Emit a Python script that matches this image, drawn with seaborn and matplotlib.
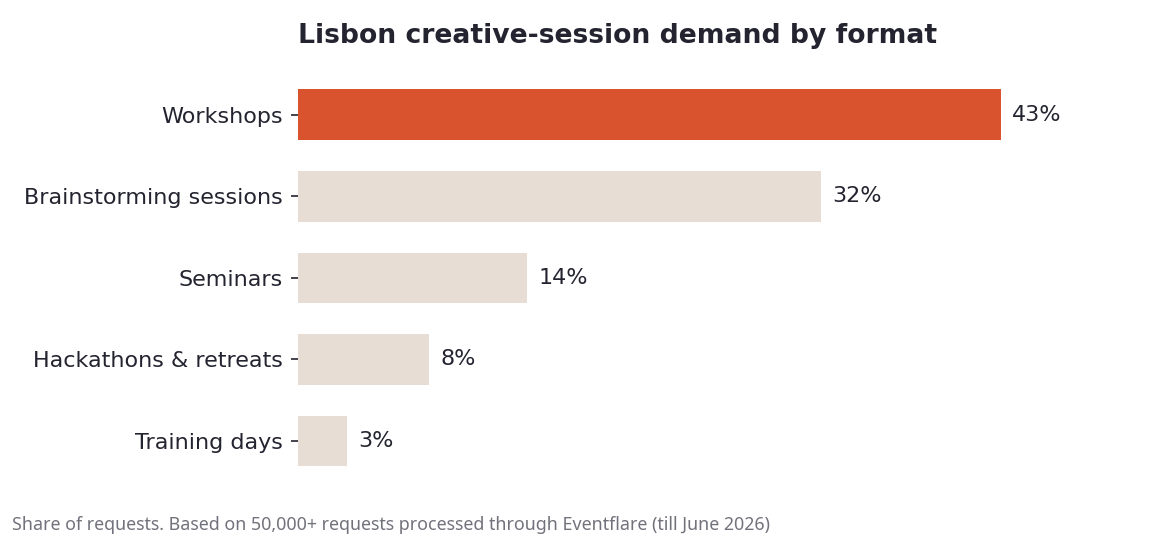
import matplotlib
matplotlib.use("Agg")
import matplotlib.pyplot as plt
import seaborn as sns
import pandas as pd

# data
formats = ["Workshops", "Brainstorming sessions", "Seminars", "Hackathons & retreats", "Training days"]
shares = [43, 32, 14, 8, 3]
highlight = "Workshops"

title = "Lisbon creative-session demand by format"
note = "Share of requests. Based on 50,000+ requests processed through Eventflare (till June 2026)"

text_color = "#23242f"
accent = "#d9532e"
muted = "#e7ddd4"

sns.set_theme(style="white")
plt.rcParams["font.family"] = ["DejaVu Sans"]

df = pd.DataFrame({"format": formats, "share": shares})
palette = {f: (accent if f == highlight else muted) for f in formats}

fig = plt.figure(figsize=(11.52, 5.36), dpi=100)
ax = fig.add_axes([0.2587, 0.1015, 0.7093, 0.7605])

sns.barplot(data=df, y="format", x="share", hue="format", palette=palette,
            order=formats, width=0.62, legend=False, saturation=1,
            linewidth=0, edgecolor="none", ax=ax)

ax.set_xlim(0, 50)
ax.set_xlabel("")
ax.set_ylabel("")
ax.set_xticks([])
sns.despine(ax=ax, left=True, bottom=True)
ax.tick_params(axis="y", length=5, width=1.2, color=text_color, labelsize=16,
               labelcolor=text_color, pad=6, left=True)

for i, v in enumerate(shares):
    ax.text(v + 0.7, i, f"{v}%", va="center", ha="left", fontsize=16, color=text_color)

ax.set_title(title, loc="left", fontsize=19.2, fontweight="bold", color=text_color, pad=22)
fig.text(12 / 1152, 1 - 525 / 536, note, fontsize=12.85, color="#72727c",
         family=["Noto Sans", "DejaVu Sans"], va="center", ha="left")

fig.savefig("out.png", dpi=100)
